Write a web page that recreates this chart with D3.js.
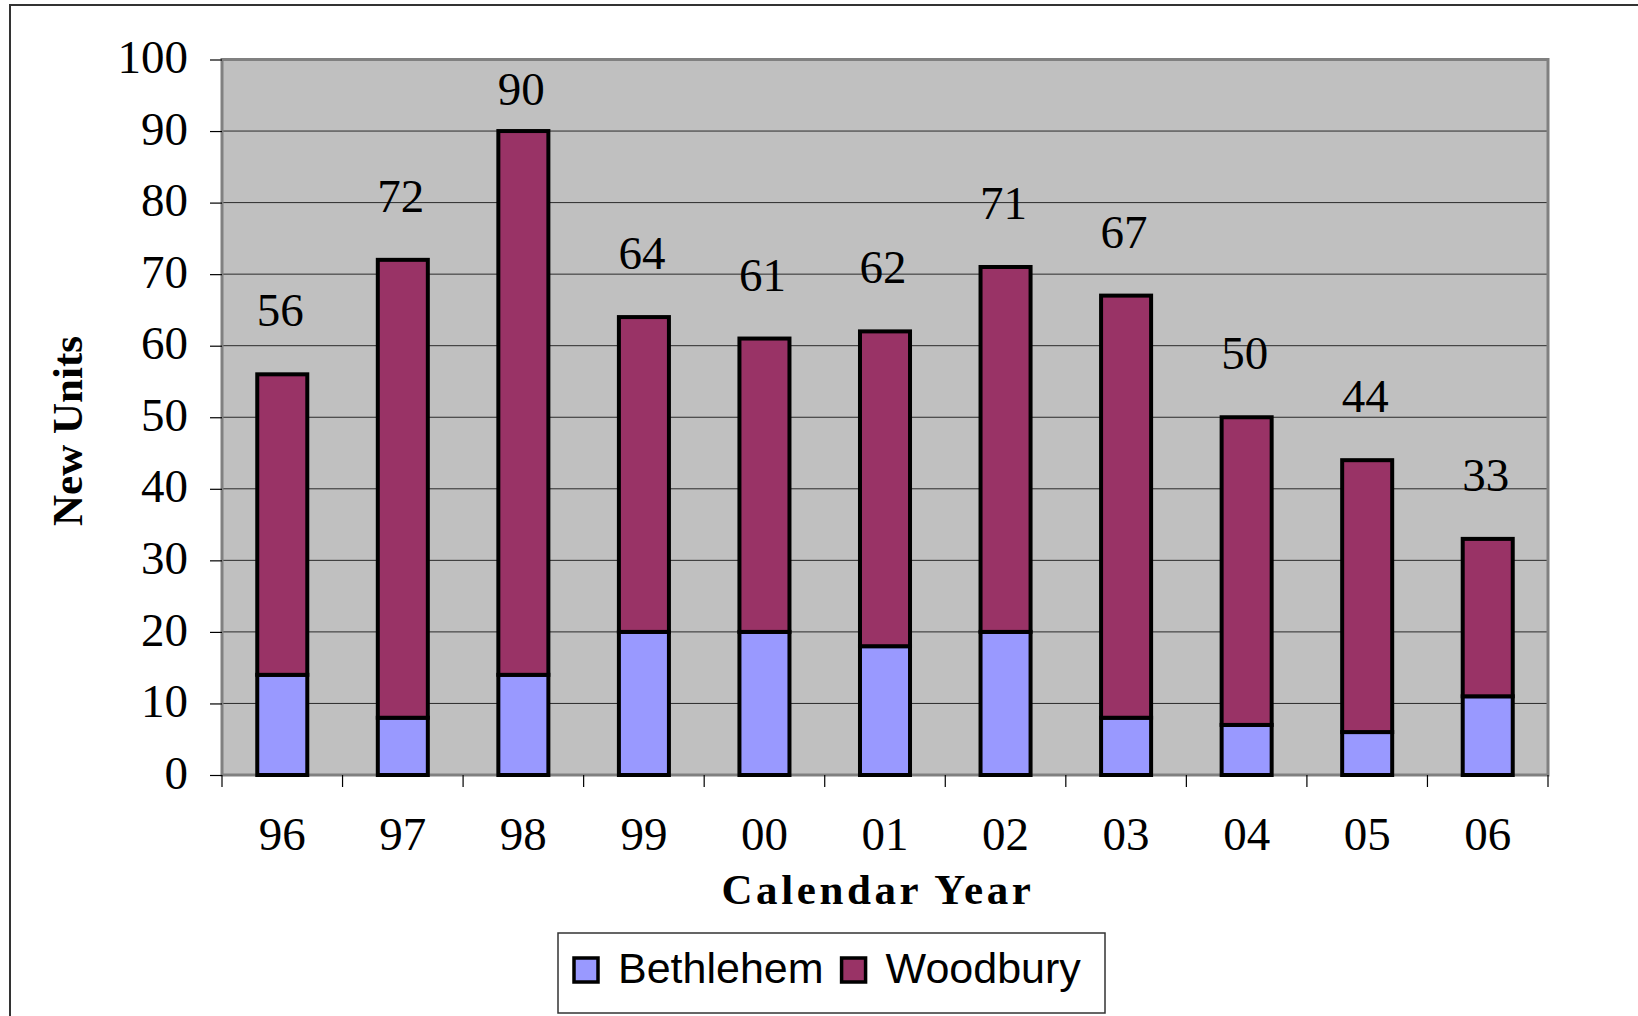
<!DOCTYPE html>
<html>
<head>
<meta charset="utf-8">
<script src="https://cdn.jsdelivr.net/npm/d3@7"></script>
<style>
  body { margin: 0; background: #fff; }
</style>
</head>
<body>
<div id="chart"></div>
<script>
"use strict";

// Chart data
const years = ["96", "97", "98", "99", "00", "01", "02", "03", "04", "05", "06"];
const bethlehem = [14, 8, 14, 20, 20, 18, 20, 8, 7, 6, 11];
const woodbury = [42, 64, 76, 44, 41, 44, 51, 59, 43, 38, 22];
const yTicks = [0, 10, 20, 30, 40, 50, 60, 70, 80, 90, 100];
const seriesNames = ["Bethlehem", "Woodbury"];
const seriesColors = ["#9999ff", "#993366"];

const width = 1638, height = 1016;
const plot = {left: 222, right: 1548, top: 59.5, bottom: 775};
const serif = "'Liberation Serif', 'Times New Roman', serif";
const sans = "'Liberation Sans', Arial, sans-serif";

let svg = d3.select("#chart").append("svg")
  .attr("width", width)
  .attr("height", height);

// Outer frame (runs off the right and bottom edges)
svg.append("rect")
  .attr("x", 10).attr("y", 5)
  .attr("width", width + 20).attr("height", height + 20)
  .attr("fill", "#fff")
  .attr("stroke", "#333")
  .attr("stroke-width", 2);

// Scales
let x = d3.scaleBand().domain(years).range([plot.left, plot.right]).padding(0);
let y = d3.scaleLinear().domain([0, 100]).range([plot.bottom, plot.top]);
let barWidth = x.bandwidth() * 0.415;

// Plot area background
svg.append("rect")
  .attr("x", plot.left).attr("y", plot.top)
  .attr("width", plot.right - plot.left)
  .attr("height", plot.bottom - plot.top)
  .attr("fill", "#c0c0c0");

// Gridlines
svg.append("g").selectAll("line")
  .data(yTicks.filter(d => d > 0 && d < 100))
  .join("line")
  .attr("x1", plot.left).attr("x2", plot.right)
  .attr("y1", d => y(d)).attr("y2", d => y(d))
  .attr("stroke", "#2a2a2a")
  .attr("stroke-width", 1);

// Plot border
svg.append("rect")
  .attr("x", plot.left).attr("y", plot.top)
  .attr("width", plot.right - plot.left)
  .attr("height", plot.bottom - plot.top)
  .attr("fill", "none")
  .attr("stroke", "#808080")
  .attr("stroke-width", 3);

// Y axis
let yAxis = d3.axisLeft(y).tickValues(yTicks).tickSize(12).tickPadding(22);
let gy = svg.append("g")
  .attr("transform", "translate(" + plot.left + ",0)")
  .call(yAxis);
gy.select(".domain").remove();
gy.selectAll(".tick line").attr("stroke", "#000").attr("stroke-width", 1.2);
gy.selectAll(".tick text")
  .attr("font-family", serif)
  .attr("font-size", "47px")
  .attr("fill", "#000")
  .attr("dy", "0.28em");

// X axis ticks at category boundaries
let bounds = years.map(d => x(d)).concat([plot.right]);
svg.append("g").selectAll("line")
  .data(bounds)
  .join("line")
  .attr("x1", d => d).attr("x2", d => d)
  .attr("y1", plot.bottom).attr("y2", plot.bottom + 12)
  .attr("stroke", "#000")
  .attr("stroke-width", 1.2);

svg.append("g").selectAll("text")
  .data(years)
  .join("text")
  .attr("x", d => x(d) + x.bandwidth() / 2)
  .attr("y", plot.bottom + 75)
  .attr("text-anchor", "middle")
  .attr("font-family", serif)
  .attr("font-size", "47px")
  .attr("fill", "#000")
  .text(d => d);

// Stacked bars
let stackData = years.map((yr, i) => ({year: yr, Bethlehem: bethlehem[i], Woodbury: woodbury[i]}));
let stacked = d3.stack().keys(seriesNames)(stackData);

let bars = svg.append("g");
stacked.forEach(function(layer, li) {
  bars.append("g")
    .selectAll("rect")
    .data(layer)
    .join("rect")
    .attr("x", d => x(d.data.year) + (x.bandwidth() - barWidth) / 2)
    .attr("y", d => y(d[1]))
    .attr("width", barWidth)
    .attr("height", d => y(d[0]) - y(d[1]))
    .attr("fill", seriesColors[li])
    .attr("stroke", "#000")
    .attr("stroke-width", 4);
});

// Total labels above each bar
let totals = years.map((yr, i) => bethlehem[i] + woodbury[i]);
svg.append("g").selectAll("text")
  .data(totals)
  .join("text")
  .attr("x", (d, i) => x(years[i]) + x.bandwidth() / 2 - 2)
  .attr("y", d => Math.max(y(d) - 48, y(100) + 45))
  .attr("text-anchor", "middle")
  .attr("font-family", serif)
  .attr("font-size", "47px")
  .attr("fill", "#000")
  .text(d => d);

// Axis titles
svg.append("text")
  .attr("transform", "translate(82,431) rotate(-90)")
  .attr("text-anchor", "middle")
  .attr("font-family", serif)
  .attr("font-size", "43px")
  .attr("font-weight", "bold")
  .attr("fill", "#000")
  .text("New Units");

svg.append("text")
  .attr("x", (plot.left + plot.right) / 2 - 7)
  .attr("y", 904)
  .attr("text-anchor", "middle")
  .attr("font-family", serif)
  .attr("font-size", "43px")
  .attr("font-weight", "bold")
  .attr("letter-spacing", "3.6px")
  .attr("fill", "#000")
  .text("Calendar Year");

// Legend
let legend = svg.append("g");
legend.append("rect")
  .attr("x", 558).attr("y", 933)
  .attr("width", 547).attr("height", 80)
  .attr("fill", "#fff")
  .attr("stroke", "#333")
  .attr("stroke-width", 1.5);

let lx = 574;
seriesNames.forEach(function(name, i) {
  legend.append("rect")
    .attr("x", lx).attr("y", 958)
    .attr("width", 24).attr("height", 24)
    .attr("fill", seriesColors[i])
    .attr("stroke", "#000")
    .attr("stroke-width", 3.5);
  let t = legend.append("text")
    .attr("x", lx + 44)
    .attr("y", 983)
    .attr("font-family", sans)
    .attr("font-size", "43px")
    .attr("fill", "#000")
    .text(name);
  lx += 44 + t.node().getComputedTextLength() + 18;
});
</script>
</body>
</html>
